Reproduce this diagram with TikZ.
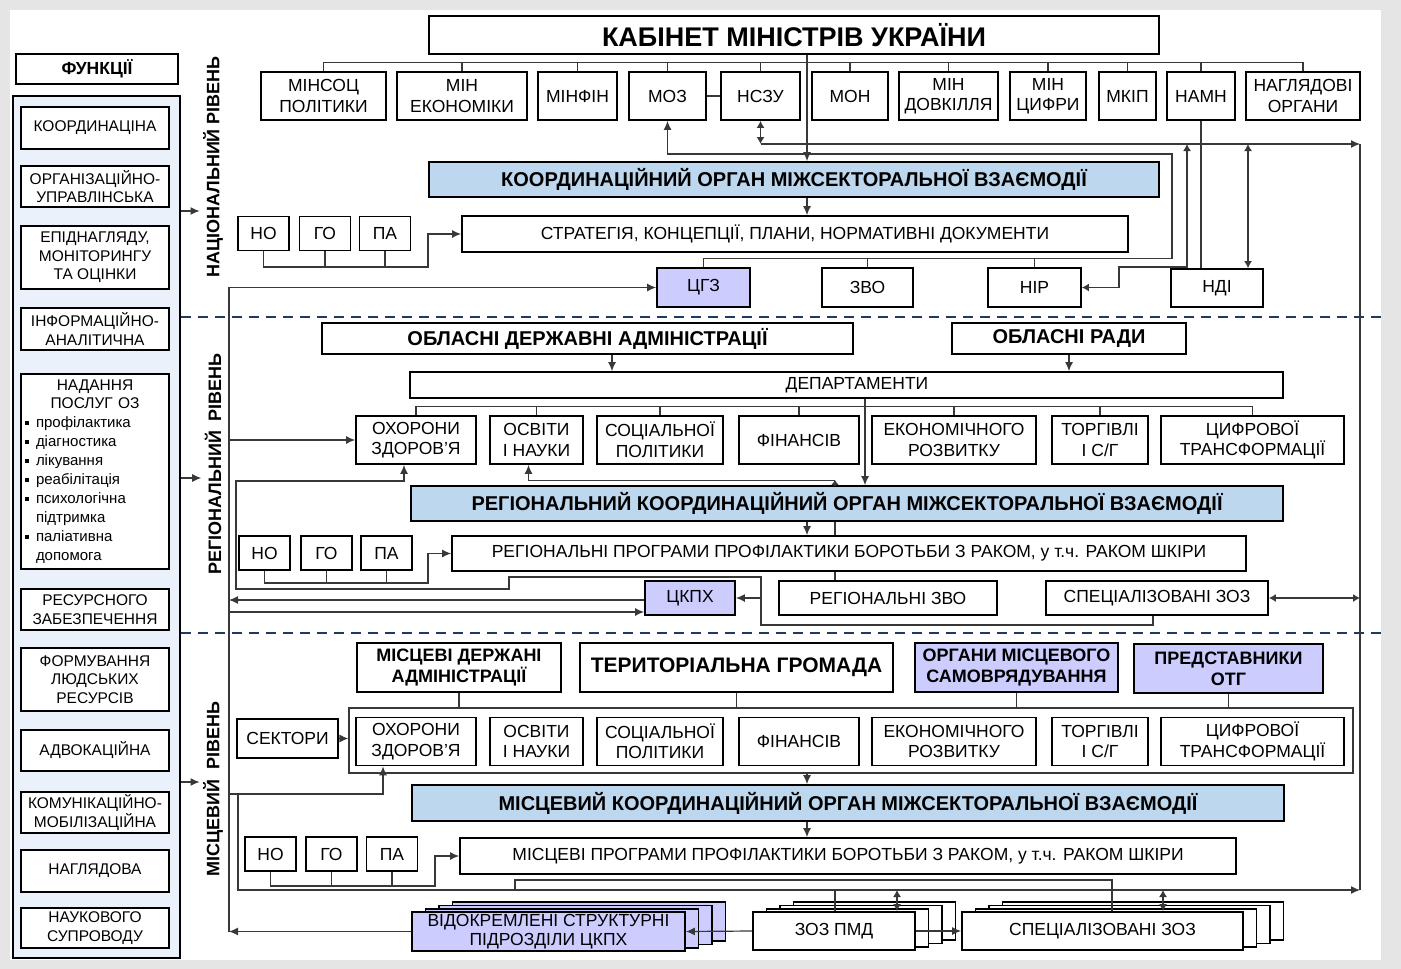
\documentclass[tikz,border=0pt]{standalone}
\usepackage{fontspec}
\setmainfont{Liberation Sans}
\usetikzlibrary{arrows.meta}
\definecolor{orgblue}{HTML}{BDD7EE}
\definecolor{lav}{HTML}{CCCCFF}
\definecolor{panelblue}{HTML}{EAF1FA}
\definecolor{navy}{HTML}{1F3864}
\definecolor{wire}{HTML}{383838}
\newcommand{\blt}{\makebox[11pt][l]{\rule[3pt]{4pt}{4pt}}}
\tikzset{
  bx/.style={draw, line width=1.8pt, fill=white, inner sep=0pt, align=center, font=\fontsize{17.5}{20.5}\selectfont},
  fn/.style={bx, minimum width=148, font=\fontsize{15.5}{18.5}\selectfont},
  mn/.style={bx, minimum height=48},
  dp/.style={bx, minimum height=48},
  sm/.style={bx, minimum width=51, minimum height=34},
  hd/.style={bx, font=\bfseries\fontsize{20}{22}\selectfont},
  hdtwo/.style={bx, minimum height=49, font=\bfseries\fontsize{18}{21}\selectfont},
  org/.style={hd, fill=orgblue},
  lv/.style={bx, fill=lav},
  lvl/.style={rotate=90, font=\bfseries\fontsize{18}{20}\selectfont},
  ln/.style={draw=wire, line width=1.2pt},
  arr/.style={ln, -{Latex[length=9pt,width=8pt]}},
  darr/.style={ln, {Latex[length=7pt,width=8pt]}-{Latex[length=7pt,width=8pt]}},
  lvlsep/.style={draw=navy, line width=1.6pt, dash pattern=on 10pt off 7pt},
  stk/.style={draw, line width=1.8pt, fill=white}
}
\begin{document}
\begin{tikzpicture}[x=1pt,y=-1pt]
\useasboundingbox (0,0) rectangle (1401,969);
\fill[black!10] (0,0) rectangle (1401,969);
\fill[white] (10,10) rectangle (1381,960);

\node[bx, minimum width=162, minimum height=30, font=\bfseries\fontsize{17.5}{20}\selectfont] (fhead) at (97,69) {ФУНКЦІЇ};
\node[draw, line width=1.8pt, fill=panelblue, minimum width=167, minimum height=862, inner sep=0pt] (panel) at (96.5,527) {};
\node[fn, minimum height=42] (f1) at (95,128) {КООРДИНАЦІНА};
\node[fn, minimum height=41] (f2) at (95,186.5) {ОРГАНІЗАЦІЙНО-\\УПРАВЛІНСЬКА};
\node[fn, minimum height=63] (f3) at (95,257.5) {ЕПІДНАГЛЯДУ,\\МОНІТОРИНГУ\\ТА ОЦІНКИ};
\node[fn, minimum height=42] (f4) at (95,329) {ІНФОРМАЦІЙНО-\\АНАЛІТИЧНА};
\node[fn, minimum height=195, text width=140] (f5) at (95,471.5) {\centering НАДАННЯ\\ПОСЛУГ ОЗ\par\raggedright\fontsize{15}{19}\selectfont\blt профілактика\\\blt діагностика\\\blt лікування\\\blt реабілітація\\\blt психологічна\\\hspace*{11pt}підтримка\\\blt паліативна\\\hspace*{11pt}допомога\par};
\node[fn, minimum height=41] (f6) at (95,609.5) {РЕСУРСНОГО\\ЗАБЕЗПЕЧЕННЯ};
\node[fn, minimum height=63] (f7) at (95,679.5) {ФОРМУВАННЯ\\ЛЮДСЬКИХ\\РЕСУРСІВ};
\node[fn, minimum height=41] (f8) at (95,750.5) {АДВОКАЦІЙНА};
\node[fn, minimum height=41] (f9) at (95,812.5) {КОМУНІКАЦІЙНО-\\МОБІЛІЗАЦІЙНА};
\node[fn, minimum height=42] (f10) at (95,871) {НАГЛЯДОВА};
\node[fn, minimum height=40] (f11) at (95,928) {НАУКОВОГО\\СУПРОВОДУ};

\node[lvl] (natl) at (213,167) {НАЦІОНАЛЬНИЙ РІВЕНЬ};
\node[lvl] (regl) at (213,464) {РЕГІОНАЛЬНИЙ\ \ РІВЕНЬ};
\node[lvl] (locl) at (213,789) {МІСЦЕВИЙ\ \ РІВЕНЬ};

\node[bx, minimum width=730, minimum height=38, font=\bfseries\fontsize{27}{30}\selectfont] (kmu) at (794,35) {КАБІНЕТ МІНІСТРІВ УКРАЇНИ};
\node[mn, minimum width=125] (msoc) at (323.5,96) {МІНСОЦ\\ПОЛІТИКИ};
\node[mn, minimum width=130] (mecon) at (462,96) {МІН\\ЕКОНОМІКИ};
\node[mn, minimum width=79] (mfin) at (577.5,96) {МІНФІН};
\node[mn, minimum width=77] (moz) at (667.5,96) {МОЗ};
\node[mn, minimum width=79] (nszu) at (760.5,96) {НСЗУ};
\node[mn, minimum width=76] (mon) at (850,96) {МОН};
\node[mn, minimum width=99] (mdov) at (948.5,96) {МІН\\ДОВКІЛЛЯ};
\node[mn, minimum width=76] (mcyf) at (1048,96) {МІН\\ЦИФРИ};
\node[mn, minimum width=57] (mkip) at (1127.5,96) {МКІП};
\node[mn, minimum width=68] (namn) at (1201,96) {НАМН};
\node[mn, minimum width=114] (nagl) at (1303,96) {НАГЛЯДОВІ\\ОРГАНИ};
\node[org, minimum width=730, minimum height=35] (korg) at (794,179.5) {КООРДИНАЦІЙНИЙ ОРГАН МІЖСЕКТОРАЛЬНОЇ ВЗАЄМОДІЇ};
\node[bx, minimum width=666, minimum height=36] (strat) at (795,234) {СТРАТЕГІЯ, КОНЦЕПЦІЇ, ПЛАНИ, НОРМАТИВНІ ДОКУМЕНТИ};
\node[sm] (no1) at (263.5,233.5) {НО};
\node[sm] (go1) at (325,233.5) {ГО};
\node[sm] (pa1) at (385,233.5) {ПА};
\node[lv, minimum width=93, minimum height=39] (cgz) at (703.5,287.5) {ЦГЗ};
\node[bx, minimum width=91, minimum height=39] (zvo1) at (867.5,287.5) {ЗВО};
\node[bx, minimum width=93, minimum height=39] (nir) at (1034.5,287.5) {НІР};
\node[bx, minimum width=92, minimum height=38] (ndi) at (1217,288) {НДІ};

\node[hd, minimum width=531, minimum height=31] (oda) at (587.5,338.5) {ОБЛАСНІ ДЕРЖАВНІ АДМІНІСТРАЦІЇ};
\node[hd, minimum width=234, minimum height=31] (orad) at (1069,338.5) {ОБЛАСНІ РАДИ};
\node[bx, minimum width=873, minimum height=26] (dep) at (846.5,385) {\hspace*{21pt}ДЕПАРТАМЕНТИ};
\node[dp, minimum width=120] (ohr1) at (416,440) {ОХОРОНИ\\ЗДОРОВ’Я};
\node[dp, minimum width=93] (osv1) at (536.5,440) {ОСВІТИ\\І НАУКИ};
\node[dp, minimum width=126] (soc1) at (660,440) {СОЦІАЛЬНОЇ\\ПОЛІТИКИ};
\node[dp, minimum width=120] (fin1) at (799,440) {ФІНАНСІВ};
\node[dp, minimum width=164] (eco1) at (954,440) {ЕКОНОМІЧНОГО\\РОЗВИТКУ};
\node[dp, minimum width=96] (tor1) at (1100,440) {ТОРГІВЛІ\\І С/Г};
\node[dp, minimum width=183] (cyf1) at (1252.5,440) {ЦИФРОВОЇ\\ТРАНСФОРМАЦІЇ};
\node[org, minimum width=872, minimum height=35] (rko) at (847,503.5) {РЕГІОНАЛЬНИЙ КООРДИНАЦІЙНИЙ ОРГАН МІЖСЕКТОРАЛЬНОЇ ВЗАЄМОДІЇ};
\node[bx, minimum width=794, minimum height=35] (rprog) at (849,553.5) {РЕГІОНАЛЬНІ ПРОГРАМИ ПРОФІЛАКТИКИ БОРОТЬБИ З РАКОМ, у т.ч. РАКОМ ШКІРИ};
\node[sm] (no2) at (264.5,553) {НО};
\node[sm] (go2) at (326.5,553) {ГО};
\node[sm] (pa2) at (386.5,553) {ПА};
\node[lv, minimum width=90, minimum height=34] (ckpx) at (690,598) {ЦКПХ};
\node[bx, minimum width=218, minimum height=34] (zvo2) at (888,598) {РЕГІОНАЛЬНІ ЗВО};
\node[bx, minimum width=222, minimum height=34] (spec1) at (1157,598) {СПЕЦІАЛІЗОВАНІ ЗОЗ};

\node[hdtwo, minimum width=204] (mda) at (459,667.5) {МІСЦЕВІ ДЕРЖАНІ\\АДМІНІСТРАЦІЇ};
\node[hdtwo, minimum width=313, font=\bfseries\fontsize{21}{24}\selectfont] (tg) at (736.5,667.5) {ТЕРИТОРІАЛЬНА ГРОМАДА};
\node[hdtwo, fill=lav, minimum width=203] (oms) at (1016.5,667.5) {ОРГАНИ МІСЦЕВОГО\\САМОВРЯДУВАННЯ};
\node[hdtwo, fill=lav, minimum width=189] (potg) at (1228.5,668.5) {ПРЕДСТАВНИКИ\\ОТГ};
\node[draw=wire, line width=1.2pt, minimum width=1004, minimum height=65, inner sep=0pt] (secbox) at (851,740.5) {};
\node[bx, minimum width=101, minimum height=39] (sect) at (287.5,738.5) {СЕКТОРИ};
\node[dp, minimum width=120] (ohr2) at (416,741.5) {ОХОРОНИ\\ЗДОРОВ’Я};
\node[dp, minimum width=93] (osv2) at (536.5,741.5) {ОСВІТИ\\І НАУКИ};
\node[dp, minimum width=126] (soc2) at (660,741.5) {СОЦІАЛЬНОЇ\\ПОЛІТИКИ};
\node[dp, minimum width=120] (fin2) at (799,741.5) {ФІНАНСІВ};
\node[dp, minimum width=164] (eco2) at (954,741.5) {ЕКОНОМІЧНОГО\\РОЗВИТКУ};
\node[dp, minimum width=96] (tor2) at (1100,741.5) {ТОРГІВЛІ\\І С/Г};
\node[dp, minimum width=183] (cyf2) at (1252.5,741.5) {ЦИФРОВОЇ\\ТРАНСФОРМАЦІЇ};
\node[org, minimum width=872, minimum height=36] (mko) at (848,803) {МІСЦЕВИЙ КООРДИНАЦІЙНИЙ ОРГАН МІЖСЕКТОРАЛЬНОЇ ВЗАЄМОДІЇ};
\node[bx, minimum width=776, minimum height=36] (mprog) at (848,856) {МІСЦЕВІ ПРОГРАМИ ПРОФІЛАКТИКИ БОРОТЬБИ З РАКОМ, у т.ч. РАКОМ ШКІРИ};
\node[sm] (no3) at (270.5,854) {НО};
\node[sm] (go3) at (331.5,854) {ГО};
\node[sm] (pa3) at (392,854) {ПА};

\draw[stk, fill=lav] (452.5,902.1) rectangle ++(273,39);
\draw[stk, fill=lav] (439,905.4) rectangle ++(273,39);
\draw[stk, fill=lav] (425.5,908.7) rectangle ++(273,39);
\draw[stk] (793.5,902.1) rectangle ++(162,38);
\draw[stk] (780,905.4) rectangle ++(162,38);
\draw[stk] (766.5,908.7) rectangle ++(162,38);
\draw[stk] (1002.5,902.1) rectangle ++(281,38);
\draw[stk] (989,905.4) rectangle ++(281,38);
\draw[stk] (975.5,908.7) rectangle ++(281,38);
\node[lv, minimum width=273, minimum height=39, font=\fontsize{17.5}{19}\selectfont] (vid) at (548.5,931.5) {ВІДОКРЕМЛЕНІ СТРУКТУРНІ\\ПІДРОЗДІЛИ ЦКПХ};
\node[bx, minimum width=162, minimum height=38] (pmd) at (834,931) {ЗОЗ ПМД};
\node[bx, minimum width=281, minimum height=38] (spec2) at (1102.5,931) {СПЕЦІАЛІЗОВАНІ ЗОЗ};

\coordinate (rtop) at (1360,144);
\coordinate (rbot) at (1360,890);

\draw[arr] (panel.east |- 0,211) -- (natl.north |- 0,211);
\draw[arr] (panel.east |- 0,478) -- (regl.north |- 0,478);
\draw[arr] (panel.east |- 0,782) -- (locl.north |- 0,782);
\draw[lvlsep] (panel.east |- 0,317) -- (1381,317);
\draw[lvlsep] (panel.east |- 0,633) -- (1381,633);

\draw[ln] (msoc.north) -- ++(0,-9) -| (nagl.north);
\draw[ln] (mecon.north) -- ++(0,-9);
\draw[ln] (mfin.north) -- ++(0,-9);
\draw[ln] (moz.north) -- ++(0,-9);
\draw[ln] (nszu.north) -- ++(0,-9);
\draw[ln] (mon.north) -- ++(0,-9);
\draw[ln] (mdov.north) -- ++(0,-9);
\draw[ln] (mcyf.north) -- ++(0,-9);
\draw[ln] (mkip.north) -- ++(0,-9);
\draw[ln] (namn.north) -- ++(0,-9);
\draw[arr] ([xshift=13pt]kmu.south) -- ([xshift=13pt]korg.north);
\draw[arr] ([xshift=13pt]korg.south) -- ([xshift=12pt]strat.north);
\draw[ln] (moz) -- (nszu);
\draw[arr] (cgz.north) -- ++(0,-9) -| (1172,154) -| (moz.south);
\draw[ln] (zvo1.north) -- ++(0,-9);
\draw[ln] (nir.north) -- ++(0,-9);
\draw[darr] (nszu.south) -- (nszu.south |- rtop);
\draw[arr] (nszu.south |- rtop) -- (rtop);
\draw[ln] (rtop) -- (rbot);
\draw[darr] (nir.east) -- ++(37,0) |- (1187,267) -- (rtop -| 1187,0);
\draw[ln] (namn.south) -- (namn.south |- ndi.north);
\draw[darr] (rtop -| 1248,0) -- (ndi.north -| 1248,0);
\draw[arr] (no1.south) |- (428,267) |- (strat.west);
\draw[ln] (go1.south) -- ++(0,16);
\draw[ln] (pa1.south) -- ++(0,16);
\draw[arr] (229,931.5) |- (cgz.west);

\draw[arr] (oda.south -| 612,0) -- (dep.north -| 612,0);
\draw[arr] (orad.south) -- (dep.north -| orad.south);
\draw[ln] (ohr1.north) -- ++(0,-9) -| (cyf1.north);
\draw[ln] (osv1.north) -- ++(0,-9);
\draw[ln] (soc1.north) -- ++(0,-9);
\draw[ln] (fin1.north) -- ++(0,-9);
\draw[ln] (eco1.north) -- ++(0,-9);
\draw[ln] (tor1.north) -- ++(0,-9);
\draw[arr] (dep.south -| 865,0) -- (rko.north -| 865,0);
\draw[arr] (rko.south -| 807,0) -- (rprog.north -| 807,0);
\draw[ln] (zvo2.north -| 835,0) -- (rprog.south -| 835,0);
\draw[ln] (rprog.north -| 835,0) -- (rko.south -| 835,0);
\draw[draw=wire, line width=1.2pt, -{Latex[length=5pt,width=8pt]}] (rko.north -| 835,0) -- ++(0,-5);
\draw[arr] (rko.north -| 835,0) ++(0,-5) -| ([xshift=-8pt]osv1.south);
\draw[arr] (no2.south) |- (428,583) |- (rprog.west);
\draw[ln] (go2.south) -- ++(0,13);
\draw[ln] (pa2.south) -- ++(0,13);
\draw[arr] (spec1.south -| 1153,0) |- (761,625) |- (509,577) |- (236,589) |- (404,481) -- (ohr1.south -| 404,0);
\draw[arr] (761,598) -- (ckpx.east);
\draw[arr] (ckpx.west |- 0,600) -- (229,600);
\draw[arr] (229,612) -- (ckpx.west |- 0,612);
\draw[arr] (229,440) -- (ohr1.west);
\draw[darr] (spec1.east) -- (spec1.east -| rtop);

\draw[ln] (mda.south) -- (mda.south |- secbox.north);
\draw[ln] (tg.south) -- (tg.south |- secbox.north);
\draw[ln] (oms.south) -- (oms.south |- secbox.north);
\draw[ln] (potg.south) -- (potg.south |- secbox.north);
\draw[arr] (sect.east) -- (sect.east -| secbox.west);
\draw[arr] (secbox.south -| 807,0) -- (mko.north -| 807,0);
\draw[arr] (mko.south -| 807,0) -- (mprog.north -| 807,0);
\draw[arr] (no3.south) |- (435,886) |- (mprog.west);
\draw[ln] (go3.south) -- ++(0,15);
\draw[ln] (pa3.south) -- ++(0,15);
\draw[arr] (229,794) -| ([xshift=-33pt]ohr2.south);
\draw[arr] (238,794) |- (rbot);
\draw[ln] (515,890) |- (1112,880) -- (spec2.north -| 1112,0);
\draw[ln] (835,890) -- (pmd.north -| 835,0);
\draw[darr] (897,890) -- (pmd.north -| 897,0);
\draw[darr] (1163,890) -- (spec2.north -| 1163,0);
\draw[arr] (pmd.west) -- (vid.east);
\draw[arr] (pmd.east) -- (spec2.west);
\draw[arr] (vid.west) -- (vid.west -| 229,0);
\end{tikzpicture}
\end{document}
